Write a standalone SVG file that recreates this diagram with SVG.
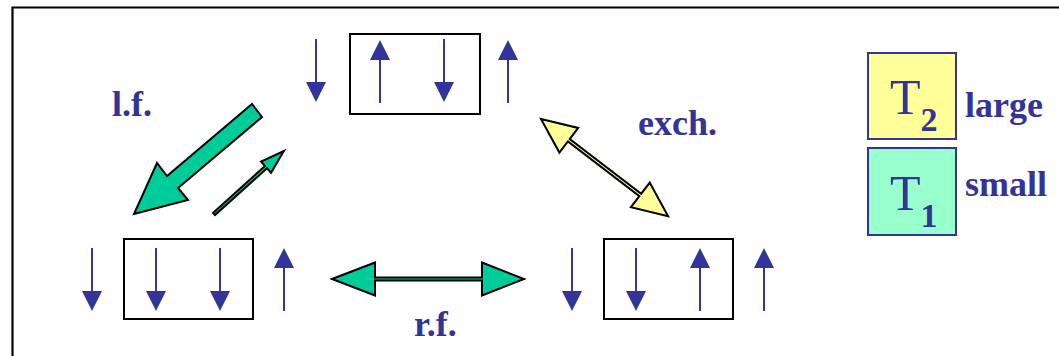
<svg xmlns="http://www.w3.org/2000/svg" xmlns:xlink="http://www.w3.org/1999/xlink" width="1059" height="356" viewBox="0 0 1059 356">
<style>
.frame{fill:none;stroke:#000;stroke-width:2.2}
.box{fill:#fff;stroke:#000;stroke-width:2}
.spin{stroke:#333399;stroke-width:2;fill:none}
.head{fill:#333399;stroke:none}
.lbl{font-family:"Liberation Serif","Times New Roman",serif;font-weight:bold;font-size:36px;fill:#333399}
.tsym{font-family:"Liberation Serif","Times New Roman",serif;font-size:50px;fill:#333399}
.green{fill:#00CC99;stroke:#000;stroke-width:2;stroke-linejoin:miter}
.yellow{fill:#FFFF99;stroke:#000;stroke-width:2;stroke-linejoin:miter}
.leg{stroke:#333399;stroke-width:2}
</style>
<defs>
<g id="down"><line class="spin" x1="0" y1="0" x2="0" y2="45"/><polygon class="head" points="-10,43 10,43 0,63"/></g>
<g id="up"><polygon class="head" points="0,0 -10,20 10,20"/><line class="spin" x1="0" y1="18" x2="0" y2="63"/></g>
</defs>
<path class="frame" d="M12.5,356 L12.5,7.5 L1059,7.5"/>
<g id="state-top">
<rect class="box" x="350" y="34" width="130" height="80"/>
<use xlink:href="#down" x="316" y="39"/>
<use xlink:href="#up" x="380" y="40"/>
<use xlink:href="#down" x="444" y="39"/>
<use xlink:href="#up" x="508" y="40"/>
</g>
<g id="state-left">
<rect class="box" x="124" y="239" width="129" height="80"/>
<use xlink:href="#down" x="92" y="248"/>
<use xlink:href="#down" x="156" y="248"/>
<use xlink:href="#down" x="220" y="248"/>
<use xlink:href="#up" x="284" y="248"/>
</g>
<g id="state-right">
<rect class="box" x="604" y="239" width="129" height="80"/>
<use xlink:href="#down" x="572" y="248"/>
<use xlink:href="#down" x="636" y="248"/>
<use xlink:href="#up" x="700" y="248"/>
<use xlink:href="#up" x="764" y="248"/>
</g>
<g id="connectors">
<polygon class="green" points="252,104 167,176 157,163 134,214 188,200 178,188 262,117"/>
<polygon class="green" transform="translate(214,214) rotate(-42)" points="0,-1.5 70,-1.5 70,-7.5 94,0 70,7.5 70,1.5 0,1.5"/>
<polygon class="yellow" transform="translate(541,119) rotate(37.4)" points="0,0 35,-15.5 35,-1.5 125,-1.5 125,-15.5 160,0 125,15.5 125,1.5 35,1.5 35,15.5"/>
<polygon class="green" transform="translate(332,279)" points="0,0 43,-16.5 43,-1.5 150,-1.5 150,-16.5 192,0 150,16.5 150,1.5 43,1.5 43,16.5"/>
</g>
<g id="labels">
<text class="lbl" x="112" y="116">l.f.</text>
<text class="lbl" x="638" y="135">exch.</text>
<text class="lbl" x="414" y="336">r.f.</text>
</g>
<g id="legend-t2">
<rect class="leg" x="868" y="53" width="88" height="86" fill="#FFFF99"/>
<text class="tsym" x="890" y="114">T<tspan font-size="34" font-weight="bold" dy="17">2</tspan></text>
<text class="lbl" x="965" y="117">large</text>
</g>
<g id="legend-t1">
<rect class="leg" x="868" y="148" width="88" height="87" fill="#99FFCC"/>
<text class="tsym" x="890" y="210">T<tspan font-size="34" font-weight="bold" dy="17">1</tspan></text>
<text class="lbl" x="965" y="196">small</text>
</g>
</svg>
